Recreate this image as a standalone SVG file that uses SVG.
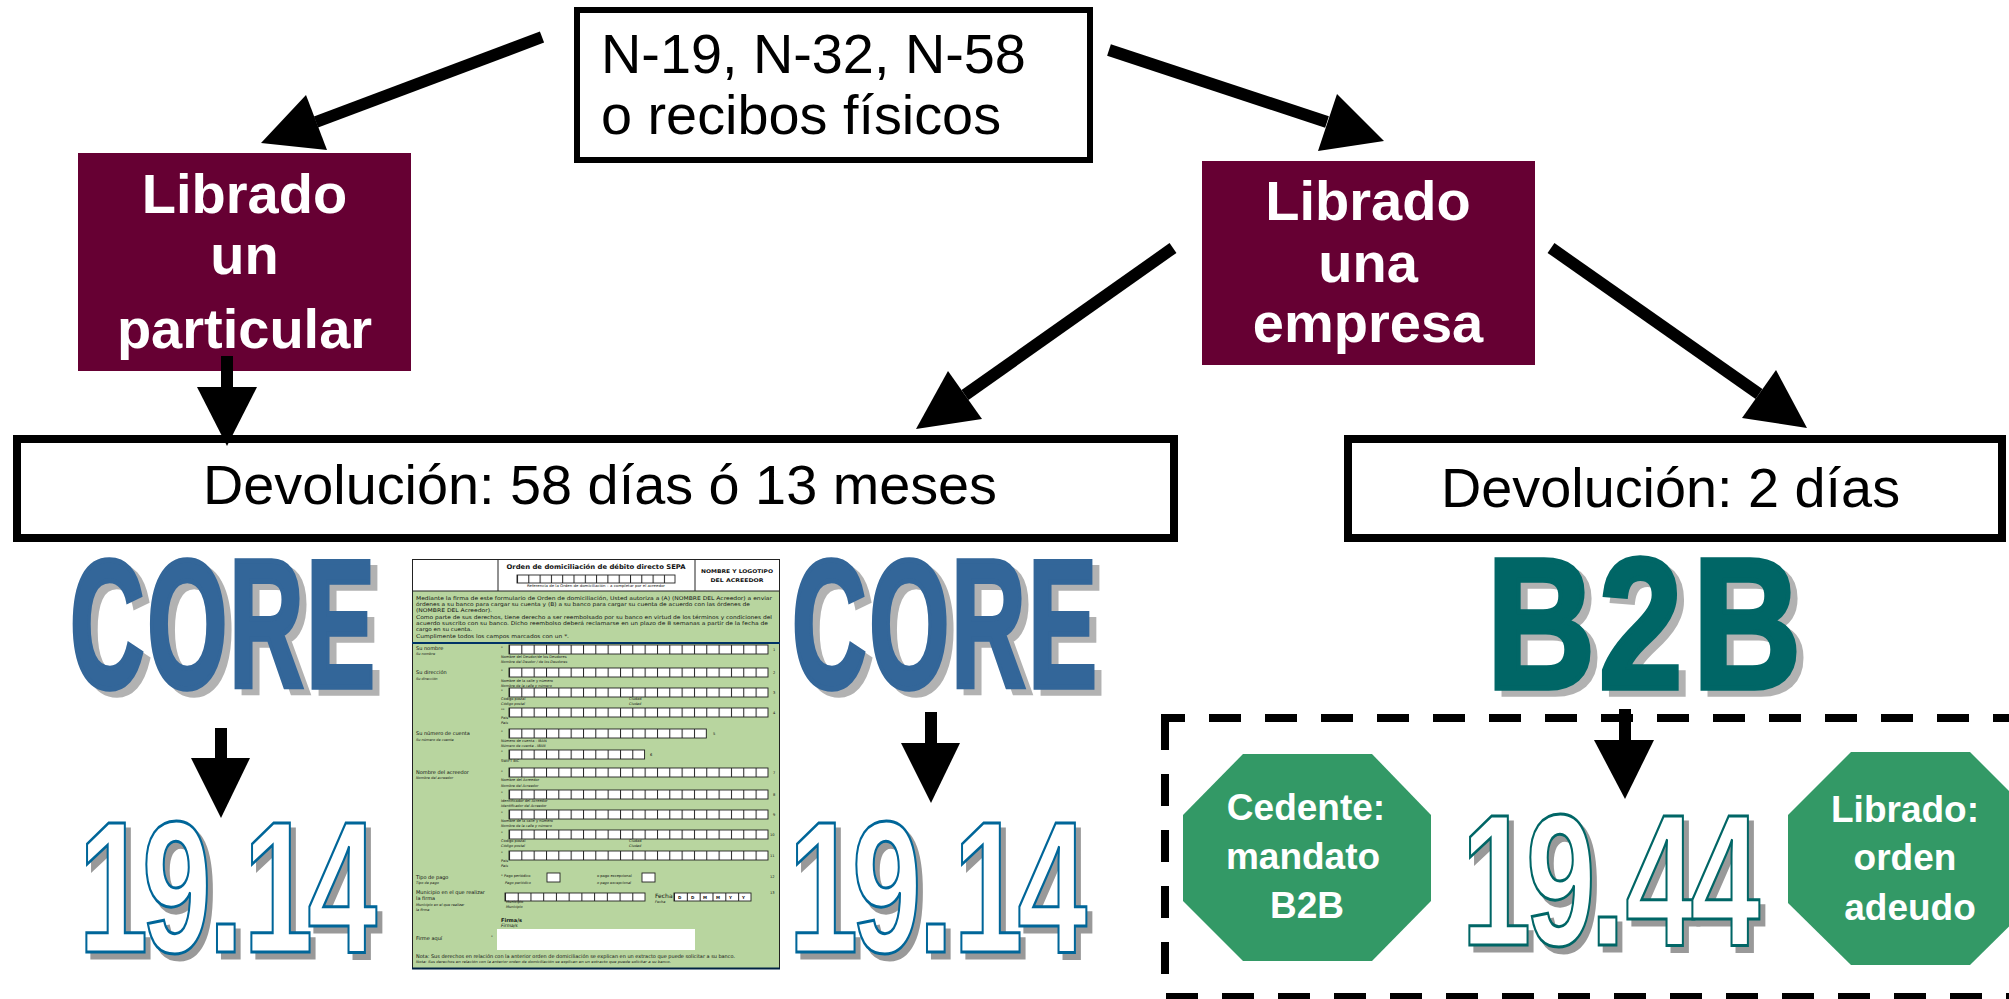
<svg xmlns="http://www.w3.org/2000/svg" width="2009" height="999" viewBox="0 0 2009 999">
<style>
text{font-family:"Liberation Sans",Arial,sans-serif}
.box{fill:#fff;stroke:#000}
.big{font-size:55.8px;fill:#000}
.mar{fill:#660033}
.w{font-size:56px;font-weight:700;fill:#fff;text-anchor:middle}
.oct{fill:#339966}
.g{font-size:37px;font-weight:700;fill:#fff;text-anchor:middle}
.art{font-size:100px;font-weight:700}
.core{fill:#336699;stroke:#336699;stroke-width:3px}
.b2b{fill:#006666;stroke:#006666;stroke-width:3px}
.n1{fill:#fff;stroke:#006699;stroke-width:1.6px}
.n2{fill:#fff;stroke:#006666;stroke-width:1.6px}
.dash{fill:none;stroke:#000;stroke-width:8;stroke-dasharray:32 24}
.shaft{stroke:#000;stroke-width:12;fill:none}
.head{fill:#000}
.f text{font-family:"DejaVu Sans",Verdana,sans-serif;fill:#111}
.s{font-size:3.6px}
.i{font-size:3.5px;font-style:italic}
.l{font-size:5px}
.b{font-size:5.2px}
.cell{stroke:#222;stroke-width:.9}
</style>
<defs>
<filter id="sh1" x="-5%" y="-5%" width="115%" height="115%" color-interpolation-filters="sRGB"><feOffset in="SourceAlpha" dx="7" dy="5.5" result="o"/><feFlood flood-color="#b2b2b2" result="c"/><feComposite in="c" in2="o" operator="in" result="sd"/><feMerge><feMergeNode in="sd"/><feMergeNode in="SourceGraphic"/></feMerge></filter>
<filter id="sh2" x="-5%" y="-5%" width="115%" height="115%" color-interpolation-filters="sRGB"><feOffset in="SourceAlpha" dx="5" dy="6" result="o"/><feFlood flood-color="#999" result="c"/><feComposite in="c" in2="o" operator="in" result="sd"/><feMerge><feMergeNode in="sd"/><feMergeNode in="SourceGraphic"/></feMerge></filter>
<pattern id="c21" patternUnits="userSpaceOnUse" x="509" y="0" width="12.33" height="100"><rect width="12.33" height="100" fill="#fff"/><rect width="1" height="100" fill="#222"/></pattern>
<pattern id="c14" patternUnits="userSpaceOnUse" x="517" y="0" width="11.3" height="100"><rect width="11.3" height="100" fill="#fff"/><rect width="1" height="100" fill="#222"/></pattern>
<pattern id="c11" patternUnits="userSpaceOnUse" x="505" y="0" width="12.73" height="100"><rect width="12.73" height="100" fill="#fff"/><rect width="1" height="100" fill="#222"/></pattern>
<pattern id="c6" patternUnits="userSpaceOnUse" x="674" y="0" width="12.83" height="100"><rect width="12.83" height="100" fill="#fff"/><rect width="1" height="100" fill="#222"/></pattern>
</defs>
<rect width="2009" height="999" fill="#fff"/>

<g id="node-origen">
<rect class="box" x="577" y="10" width="513" height="150" stroke-width="6"/>
<text class="big" x="601" y="73">N-19, N-32, N-58</text>
<text class="big" x="601" y="134">o recibos físicos</text>
</g>
<g id="node-particular">
<rect class="mar" x="78" y="153" width="333" height="218"/>
<text class="w" x="244.500" y="213">Librado</text>
<text class="w" x="244.500" y="274">un</text>
<text class="w" x="244.500" y="348">particular</text>
</g>
<g id="node-empresa">
<rect class="mar" x="1202" y="161" width="333" height="204"/>
<text class="w" x="1368" y="220">Librado</text>
<text class="w" x="1368" y="282">una</text>
<text class="w" x="1368" y="342">empresa</text>
</g>
<g id="node-dev58">
<rect class="box" x="17" y="439" width="1157" height="99" stroke-width="8"/>
<text class="big" x="203" y="504">Devolución: 58 días ó 13 meses</text>
</g>
<g id="node-dev2">
<rect class="box" x="1348" y="439" width="654" height="99" stroke-width="8"/>
<text class="big" x="1441" y="507">Devolución: 2 días</text>
</g>

<g id="node-core1" filter="url(#sh1)"><text class="art core" transform="translate(69.900 686.500) scale(1.03 1.82)" x="0 75.200 154.700 229.500" y="0">CORE</text></g>
<g id="node-core2" filter="url(#sh1)"><text class="art core" transform="translate(791.900 686.500) scale(1.03 1.82)" x="0 75.200 154.700 229.500" y="0">CORE</text></g>
<g id="node-b2b" filter="url(#sh1)"><text class="art b2b" transform="translate(1486.700 688) scale(1.5 1.85)" x="0 74.900 137.400" y="0">B2B</text></g>
<g id="node-1914a" filter="url(#sh2)"><text class="art n1" transform="translate(78.400 952) scale(1.25 1.87)" x="0 50.900 104 132 183.300" y="0">19.14</text></g>
<g id="node-1914b" filter="url(#sh2)"><text class="art n1" transform="translate(788.400 952) scale(1.25 1.87)" x="0 50.900 104 132 183.300" y="0">19.14</text></g>

<g id="node-mandato-frame">
<path class="dash" d="M1161 718H2009" stroke-dashoffset="8"/>
<path class="dash" d="M1165 718V975"/>
<path class="dash" d="M1166 997H2009"/>
</g>
<g id="node-cedente">
<polygon class="oct" points="1243,754 1372,754 1431,815 1431,901 1372,961 1243,961 1183,901 1183,815"/>
<text class="g" x="1306" y="820">Cedente:</text>
<text class="g" x="1303" y="869">mandato</text>
<text class="g" x="1307" y="918">B2B</text>
</g>
<g id="node-1944" filter="url(#sh2)"><text class="art n2" transform="translate(1461.400 945) scale(1.25 1.87)" x="0 51.700 103 131.300 183.300" y="0">19.44</text></g>
<g id="node-librado">
<polygon class="oct" points="1851,752 1970,752 2033,815 2033,903 1970,965 1851,965 1788,903 1788,815"/>
<text class="g" x="1905" y="822">Librado:</text>
<text class="g" x="1905" y="870">orden</text>
<text class="g" x="1910" y="920">adeudo</text>
</g>

<g id="node-formulario" class="f">
<rect x="412" y="559" width="368" height="410" fill="#b8d59f"/>
<rect x="412" y="559" width="368" height="32" fill="#fff"/>
<path d="M412.500 559.500H780M412.500 559V969M779.500 559V969M498 559V591M695 559V591M412 591H780" fill="none" stroke="#222" stroke-width="1"/>
<rect x="412" y="642" width="368" height="2" fill="#003366"/>
<rect x="412" y="967.500" width="368" height="2" fill="#002244"/>
<text x="596" y="569" text-anchor="middle" font-size="6.500" font-weight="700" textLength="179" lengthAdjust="spacingAndGlyphs">Orden de domiciliación de débito directo SEPA</text>
<rect class="cell" x="517" y="575" width="158" height="8" fill="url(#c14)"/>
<text class="s" x="596" y="587" text-anchor="middle" textLength="138" lengthAdjust="spacingAndGlyphs">Referencia de la Orden de domiciliación – a completar por el acreedor</text>
<text x="737" y="573" text-anchor="middle" font-size="5" font-weight="700" textLength="72" lengthAdjust="spacingAndGlyphs">NOMBRE Y LOGOTIPO</text>
<text x="737" y="582" text-anchor="middle" font-size="5" font-weight="700" textLength="53" lengthAdjust="spacingAndGlyphs">DEL ACREEDOR</text>
<text class="b" x="416" y="600" textLength="356" lengthAdjust="spacingAndGlyphs">Mediante la firma de este formulario de Orden de domiciliación, Usted autoriza a (A) (NOMBRE DEL Acreedor) a enviar</text>
<text class="b" x="416" y="606" textLength="334" lengthAdjust="spacingAndGlyphs">órdenes a su banco para cargar su cuenta y (B) a su banco para cargar su cuenta de acuerdo con las órdenes de</text>
<text class="b" x="416" y="612" textLength="76" lengthAdjust="spacingAndGlyphs">(NOMBRE DEL Acreedor).</text>
<text class="b" x="416" y="619" textLength="356" lengthAdjust="spacingAndGlyphs">Como parte de sus derechos, tiene derecho a ser reembolsado por su banco en virtud de los términos y condiciones del</text>
<text class="b" x="416" y="625" textLength="352" lengthAdjust="spacingAndGlyphs">acuerdo suscrito con su banco. Dicho reembolso deberá reclamarse en un plazo de 8 semanas a partir de la fecha de</text>
<text class="b" x="416" y="631" textLength="56" lengthAdjust="spacingAndGlyphs">cargo en su cuenta.</text>
<text class="b" x="416" y="638" textLength="153" lengthAdjust="spacingAndGlyphs">Cumplimente todos los campos marcados con un *.</text>

<rect class="cell" x="509" y="645" width="259" height="9" fill="url(#c21)"/>
<rect class="cell" x="509" y="668" width="259" height="9" fill="url(#c21)"/>
<rect class="cell" x="509" y="688" width="259" height="9" fill="url(#c21)"/>
<rect class="cell" x="509" y="708" width="259" height="9" fill="url(#c21)"/>
<rect class="cell" x="509" y="729" width="197.300" height="9" fill="url(#c21)"/>
<rect class="cell" x="509" y="750" width="135.600" height="9" fill="url(#c21)"/>
<rect class="cell" x="509" y="768" width="259" height="9" fill="url(#c21)"/>
<rect class="cell" x="509" y="790" width="259" height="9" fill="url(#c21)"/>
<rect class="cell" x="509" y="810" width="259" height="9" fill="url(#c21)"/>
<rect class="cell" x="509" y="830" width="259" height="9" fill="url(#c21)"/>
<rect class="cell" x="509" y="851" width="259" height="9" fill="url(#c21)"/>
<rect class="cell" x="547" y="873" width="13" height="9" fill="#fff"/>
<rect class="cell" x="642" y="873" width="13" height="9" fill="#fff"/>
<rect class="cell" x="505" y="893" width="140" height="8" fill="url(#c11)"/>
<rect class="cell" x="674" y="893" width="77" height="8" fill="url(#c6)"/>
<rect x="497" y="929" width="198" height="21" fill="#fff"/>

<text class="s" x="773" y="651">1</text><text class="s" x="773" y="674">2</text><text class="s" x="773" y="694">3</text><text class="s" x="773" y="714">4</text><text class="s" x="713" y="735">5</text><text class="s" x="650" y="756">6</text><text class="s" x="773" y="774">7</text><text class="s" x="773" y="796">8</text><text class="s" x="773" y="816">9</text><text class="s" x="770" y="836">10</text><text class="s" x="770" y="857">11</text><text class="s" x="770" y="878">12</text><text class="s" x="770" y="894">13</text>

<text class="l" x="416" y="650">Su nombre</text><text class="i" x="416" y="655">Su nombre</text>
<text class="l" x="416" y="674">Su dirección</text><text class="i" x="416" y="680">Su dirección</text>
<text class="l" x="416" y="735">Su número de cuenta</text><text class="i" x="416" y="741">Su número de cuenta</text>
<text class="l" x="416" y="774">Nombre del acreedor</text><text class="i" x="416" y="779">Nombre del acreedor</text>
<text class="l" x="416" y="879">Tipo de pago</text><text class="i" x="416" y="884">Tipo de pago</text>
<text class="l" x="416" y="894">Municipio en el que realizar</text><text class="l" x="416" y="900">la firma</text>
<text class="i" x="416" y="906">Municipio en el que realizar</text><text class="i" x="416" y="911">la firma</text>
<text class="l" x="416" y="940">Firme aquí</text>

<text class="s" x="501" y="649">*</text><text class="s" x="501" y="672">*</text><text class="s" x="501" y="692">*</text><text class="s" x="501" y="711">**</text><text class="s" x="501" y="733">*</text><text class="s" x="501" y="753">*</text><text class="s" x="501" y="773">*</text><text class="s" x="501" y="794">*</text><text class="s" x="501" y="814">*</text><text class="s" x="501" y="834">*</text><text class="s" x="501" y="854">*</text><text class="s" x="491" y="938">*</text>

<text class="s" x="501" y="658">Nombre del Deudor/de los Deudores</text><text class="i" x="501" y="663">Nombre del Deudor / de los Deudores</text>
<text class="s" x="501" y="682">Nombre de la calle y número</text><text class="i" x="501" y="687">Nombre de la calle y número</text>
<text class="s" x="501" y="700">Código postal</text><text class="i" x="501" y="705">Código postal</text><text class="s" x="629" y="700">Ciudad</text><text class="i" x="629" y="705">Ciudad</text>
<text class="s" x="501" y="719">País</text><text class="i" x="501" y="724">País</text>
<text class="s" x="501" y="742">Número de cuenta - IBAN</text><text class="i" x="501" y="747">Número de cuenta - IBAN</text>
<text class="s" x="501" y="762">SWIFT BIC</text>
<text class="s" x="501" y="781">Nombre del Acreedor</text><text class="i" x="501" y="787">Nombre del Acreedor</text>
<text class="s" x="501" y="802">Identificador del Acreedor</text><text class="i" x="501" y="807">Identificador del Acreedor</text>
<text class="s" x="501" y="822">Nombre de la calle y número</text><text class="i" x="501" y="827">Nombre de la calle y número</text>
<text class="s" x="501" y="842">Código postal</text><text class="i" x="501" y="847">Código postal</text><text class="s" x="629" y="842">Ciudad</text><text class="i" x="629" y="847">Ciudad</text>
<text class="s" x="501" y="862">País</text><text class="i" x="501" y="867">País</text>
<text class="s" x="501" y="877">* Pago periódico</text><text class="i" x="505" y="884">Pago periódico</text>
<text class="s" x="597" y="877">o  pago excepcional</text><text class="i" x="597" y="884">o  pago excepcional</text>
<text class="s" x="506" y="903">Municipio</text><text class="i" x="506" y="908">Municipio</text>
<text x="655" y="898" font-size="6">Fecha</text><text class="i" x="655" y="903">Fecha</text>
<text x="678" y="899" font-size="4" font-weight="700">D</text><text x="691" y="899" font-size="4" font-weight="700">D</text><text x="703" y="899" font-size="4" font-weight="700">M</text><text x="716" y="899" font-size="4" font-weight="700">M</text><text x="729" y="899" font-size="4" font-weight="700">Y</text><text x="742" y="899" font-size="4" font-weight="700">Y</text>
<text x="501" y="922" font-size="5" font-weight="700">Firma/s</text><text x="501" y="926.500" font-size="4.500" font-style="italic">Firma/s</text>
<text x="416" y="958" font-size="5" textLength="319" lengthAdjust="spacingAndGlyphs">Nota: Sus derechos en relación con la anterior orden de domiciliación se explican en un extracto que puede solicitar a su banco.</text>
<text class="i" x="416" y="963" textLength="255" lengthAdjust="spacingAndGlyphs">Nota: Sus derechos en relación con la anterior orden de domiciliación se explican en un extracto que puede solicitar a su banco.</text>
</g>

<g id="connectors">
<line class="shaft" x1="542" y1="37" x2="316" y2="122"/><polygon class="head" points="261,143 306,95 327,150"/>
<line class="shaft" x1="1109" y1="50" x2="1327" y2="122"/><polygon class="head" points="1384,141 1337,94 1318,151"/>
<line class="shaft" x1="227" y1="356" x2="227" y2="388"/><polygon class="head" points="197,387 257,387 227,446"/>
<line class="shaft" x1="1173" y1="248" x2="965" y2="395"/><polygon class="head" points="916,429 948,371 982,419"/>
<line class="shaft" x1="1551" y1="248" x2="1759" y2="394"/><polygon class="head" points="1807,428 1776,370 1742,418"/>
<line class="shaft" x1="221" y1="728" x2="221" y2="759"/><polygon class="head" points="191,758 250,758 221,818"/>
<line class="shaft" x1="931" y1="712" x2="931" y2="744"/><polygon class="head" points="901,743 960,743 931,803"/>
<line class="shaft" x1="1625" y1="709" x2="1625" y2="741"/><polygon class="head" points="1594,740 1654,740 1625,799"/>
</g>
</svg>
